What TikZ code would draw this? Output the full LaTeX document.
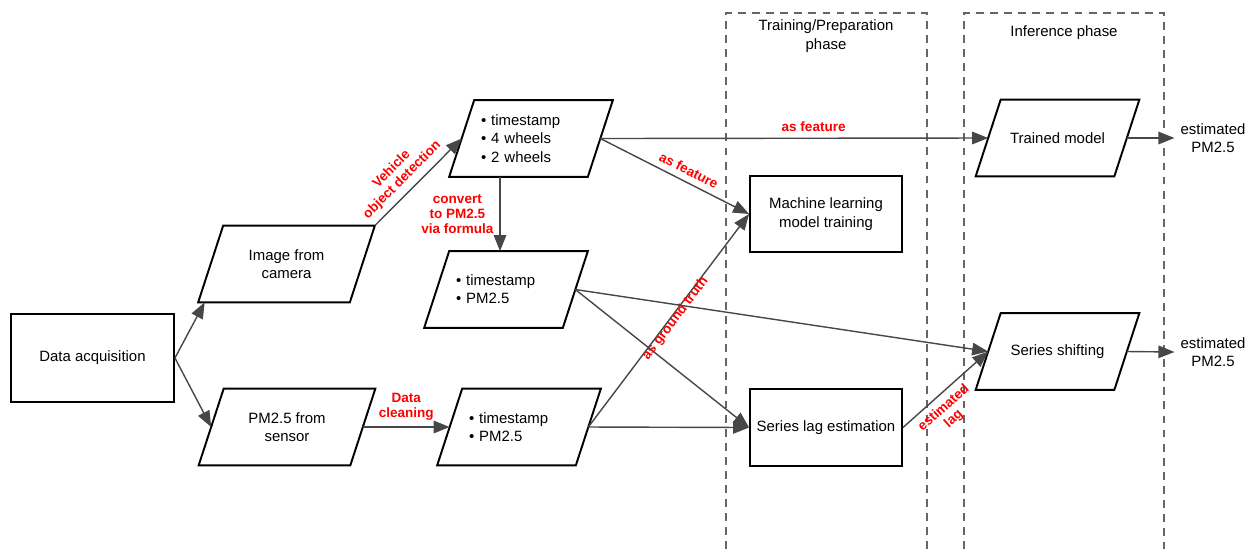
\documentclass[tikz,border=0pt]{standalone}
\usepackage{fontspec}
\setmainfont{Liberation Sans}
\usetikzlibrary{arrows.meta}

\begin{document}
\begin{tikzpicture}[x=0.02cm, y=-0.02cm,
  font=\fontsize{8.5}{10.4}\selectfont,
  box/.style={draw, line width=1.1pt, minimum width=3.04cm, minimum height=1.53cm, align=center},
  data/.style={minimum width=#1, minimum height=1.52cm, inner sep=0pt, align=center,
    append after command={\pgfextra{\draw[line width=1.1pt]
      ([xshift=0.25cm]\tikzlastnode.north west) -- ([xshift=0.25cm]\tikzlastnode.north east)
      -- ([xshift=-0.25cm]\tikzlastnode.south east) -- ([xshift=-0.25cm]\tikzlastnode.south west) -- cycle;}}},
  data/.default=2.76cm,
  items/.style={data, text width=2cm, align=left},
  flow/.style={-{Triangle[length=0.32cm,width=0.25cm]}, draw=black!72, line width=0.8pt},
  lbl/.style={text=red, font=\fontsize{7.7}{8.4}\selectfont\bfseries, align=center},
  phase/.style={draw=black!60, line width=0.6pt, dash pattern=on 4.5pt off 3.5pt}]
\useasboundingbox (0,0) rectangle (1253,549);

\draw[phase] (726,549) |- (927,13) -- (927,549);
\draw[phase] (964,549) |- (1164,13) -- (1164,549);
\node[align=center] (trainlbl) at (826,36) {Training/Preparation\\phase};
\node (inflbl) at (1064,33) {Inference phase};

\node[box, minimum width=3.26cm, minimum height=1.76cm] (acq) at (92.5,358) {Data acquisition};
\node[data=3.02cm] (cam) at (286.5,264) {Image from\\camera};
\node[data=3.02cm] (sensor) at (287,427) {PM2.5 from\\sensor};
\node[items] (wheels) at (531,138.5) {\textbullet{} timestamp\\\textbullet{} 4 wheels\\\textbullet{} 2 wheels};
\node[items] (pmconv) at (506,289.5) {\textbullet{} timestamp\\\textbullet{} PM2.5};
\node[items] (pmclean) at (519,427) {\textbullet{} timestamp\\\textbullet{} PM2.5};
\node[box] (ml) at (826,214) {Machine learning\\model training};
\node[box] (lag) at (826,427.5) {Series lag estimation};
\node[data] (trained) at (1057.5,138) {Trained model};
\node[data] (shift) at (1057.5,351.5) {Series shifting};
\node[align=center] (est1) at (1213,138) {estimated\\PM2.5};
\node[align=center] (est2) at (1213,352) {estimated\\PM2.5};

\draw[flow] (acq.east) -- ([xshift=-0.12cm]cam.south west);
\draw[flow] (acq.east) -- (sensor.west);
\draw[flow] ([xshift=0.25cm]cam.north east) -- (wheels.west) node[lbl, sloped, above, pos=0.42] {Vehicle\\object detection};
\draw[flow] (sensor.east) -- (pmclean.west) node[lbl, midway, above] {Data\\cleaning};
\draw[flow] ([xshift=-0.62cm]wheels.south) -- ([xshift=-0.62cm]wheels.south |- pmconv.north) node[lbl, midway, left] {convert\\to PM2.5\\via formula};
\draw[flow] (wheels.east) -- (trained.west) node[lbl, pos=0.55, above] {as feature};
\draw[flow] (wheels.east) -- (ml.west) node[lbl, sloped, pos=0.56, above] {as feature};
\draw[flow] (pmclean.east) -- (ml.west) node[lbl, sloped, pos=0.52, inner sep=0pt, below=-1.5pt] {as ground truth};
\draw[flow] (pmclean.east) -- (lag.west);
\draw[flow] (pmconv.east) -- (lag.west);
\draw[flow] (pmconv.east) -- (shift.west);
\draw[flow] (lag.east) -- (shift.west) node[lbl, sloped, pos=0.38, below] {estimated\\lag};
\draw[flow] (trained.east) -- (est1.west);
\draw[flow] (shift.east) -- (est2.west);
\end{tikzpicture}
\end{document}
